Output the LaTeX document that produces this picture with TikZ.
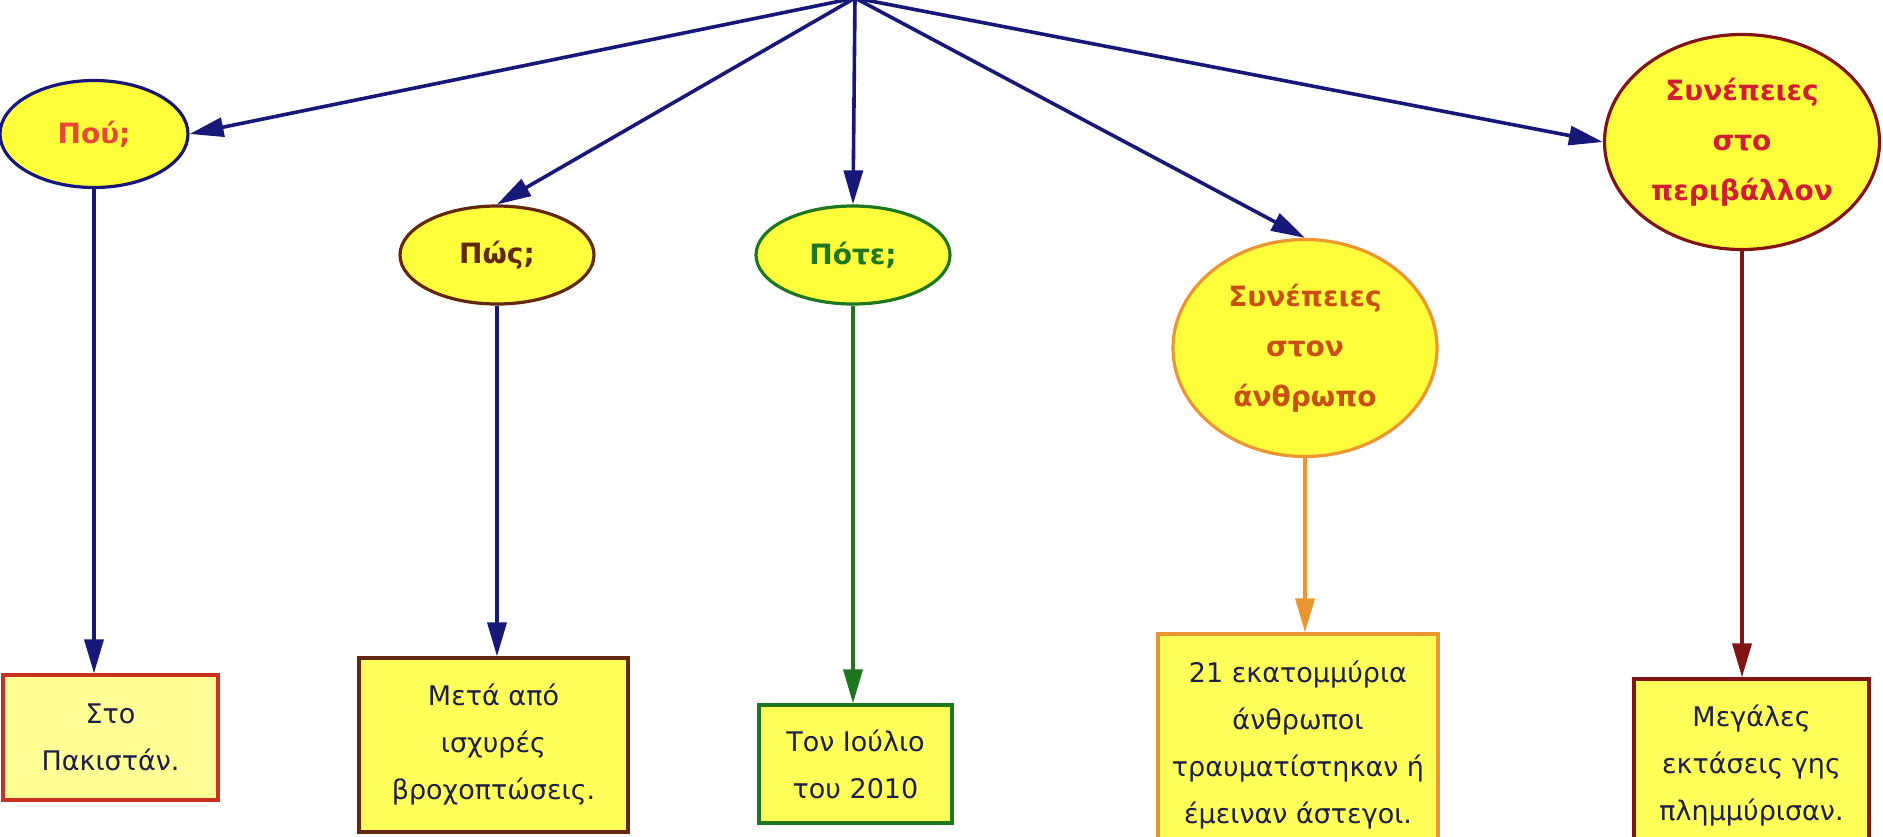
\documentclass[tikz,border=0pt]{standalone}
\usepackage{fontspec}
\setmainfont{DejaVu Sans}
\usetikzlibrary{arrows.meta, shapes.geometric}

\definecolor{navyLine}{RGB}{24,24,120}
\definecolor{bubbleFill}{RGB}{255,255,60}
\definecolor{boxFill}{RGB}{255,255,90}
\definecolor{paleFill}{RGB}{255,255,150}
\definecolor{boxText}{RGB}{30,30,70}
\definecolor{wherePink}{RGB}{232,72,56}
\definecolor{howBrown}{RGB}{100,40,12}
\definecolor{whenGreen}{RGB}{30,118,30}
\definecolor{peopleOrange}{RGB}{236,150,50}
\definecolor{peopleText}{RGB}{200,80,20}
\definecolor{envRed}{RGB}{130,20,20}
\definecolor{envText}{RGB}{210,30,50}
\definecolor{placeRed}{RGB}{200,50,30}

\begin{document}
\begin{tikzpicture}[x=0.5pt, y=-0.5pt,
	bubble/.style={ellipse, draw, line width=1.6pt, fill=bubbleFill, inner sep=0pt, align=center,
		font=\fontsize{14}{25}\selectfont\bfseries},
	answer/.style={rectangle, draw, line width=1.6pt, fill=boxFill, inner sep=0pt, align=center,
		text=boxText, font=\fontsize{13.5}{23.5}\selectfont},
	link/.style={-{Triangle[length=17pt, width=9.5pt]}, line width=1.8pt, navyLine}]
	\useasboundingbox (0,0) rectangle (1883,836);
	
	% -- Top point where all arrows start --
	\coordinate (hub) at (855,-2);
	
	% -- Questions --
	\node[bubble, draw=navyLine, text=wherePink, minimum width=94pt, minimum height=53.5pt] (where) at (94,134) {Πού;};
	\node[bubble, draw=howBrown, text=howBrown, minimum width=97pt, minimum height=49pt] (how) at (497,255) {Πώς;};
	\node[bubble, draw=whenGreen, text=whenGreen, minimum width=97pt, minimum height=49pt] (when) at (853,255) {Πότε;};
	\node[bubble, draw=peopleOrange, text=peopleText, minimum width=132pt, minimum height=108.5pt] (people) at (1305,348) {Συνέπειες\\στον\\άνθρωπο};
	\node[bubble, draw=envRed, text=envText, minimum width=137.5pt, minimum height=107.5pt] (env) at (1742,142) {Συνέπειες\\στο\\περιβάλλον};
	
	% -- Answers --
	\node[answer, draw=placeRed, fill=paleFill, minimum width=107.5pt, minimum height=62.5pt] (whereBox) at (110.5,737.5) {Στο\\Πακιστάν.};
	\node[answer, draw=howBrown, minimum width=134.5pt, minimum height=87pt] (howBox) at (493.5,745) {Μετά από\\ισχυρές\\βροχοπτώσεις.};
	\node[answer, draw=whenGreen, minimum width=96.5pt, minimum height=59pt] (whenBox) at (855.5,764) {Τον Ιούλιο\\του 2010};
	\node[answer, draw=peopleOrange, minimum width=140pt, minimum height=110.5pt] (peopleBox) at (1298,744.5) {21 εκατομμύρια\\άνθρωποι\\τραυματίστηκαν ή\\έμειναν άστεγοι.};
	\node[answer, draw=envRed, minimum width=117.5pt, minimum height=86pt] (envBox) at (1751.5,765) {Μεγάλες\\εκτάσεις γης\\πλημμύρισαν.};
	
	% -- Arrows from the top --
	\draw[link] (hub) -- (where.east);
	\draw[link] (hub) -- (how.north);
	\draw[link] (hub) -- (when.north);
	\draw[link] (hub) -- (people.north);
	\draw[link] (hub) -- (env.west);
	
	% -- Arrows down to the answers --
	\draw[link] (where.south) -- (where.south |- whereBox.north);
	\draw[link] (how.south) -- (how.south |- howBox.north);
	\draw[link, whenGreen] (when.south) -- (when.south |- whenBox.north);
	\draw[link, peopleOrange] (people.south) -- (people.south |- peopleBox.north);
	\draw[link, envRed] (env.south) -- (env.south |- envBox.north);
\end{tikzpicture}
\end{document}
